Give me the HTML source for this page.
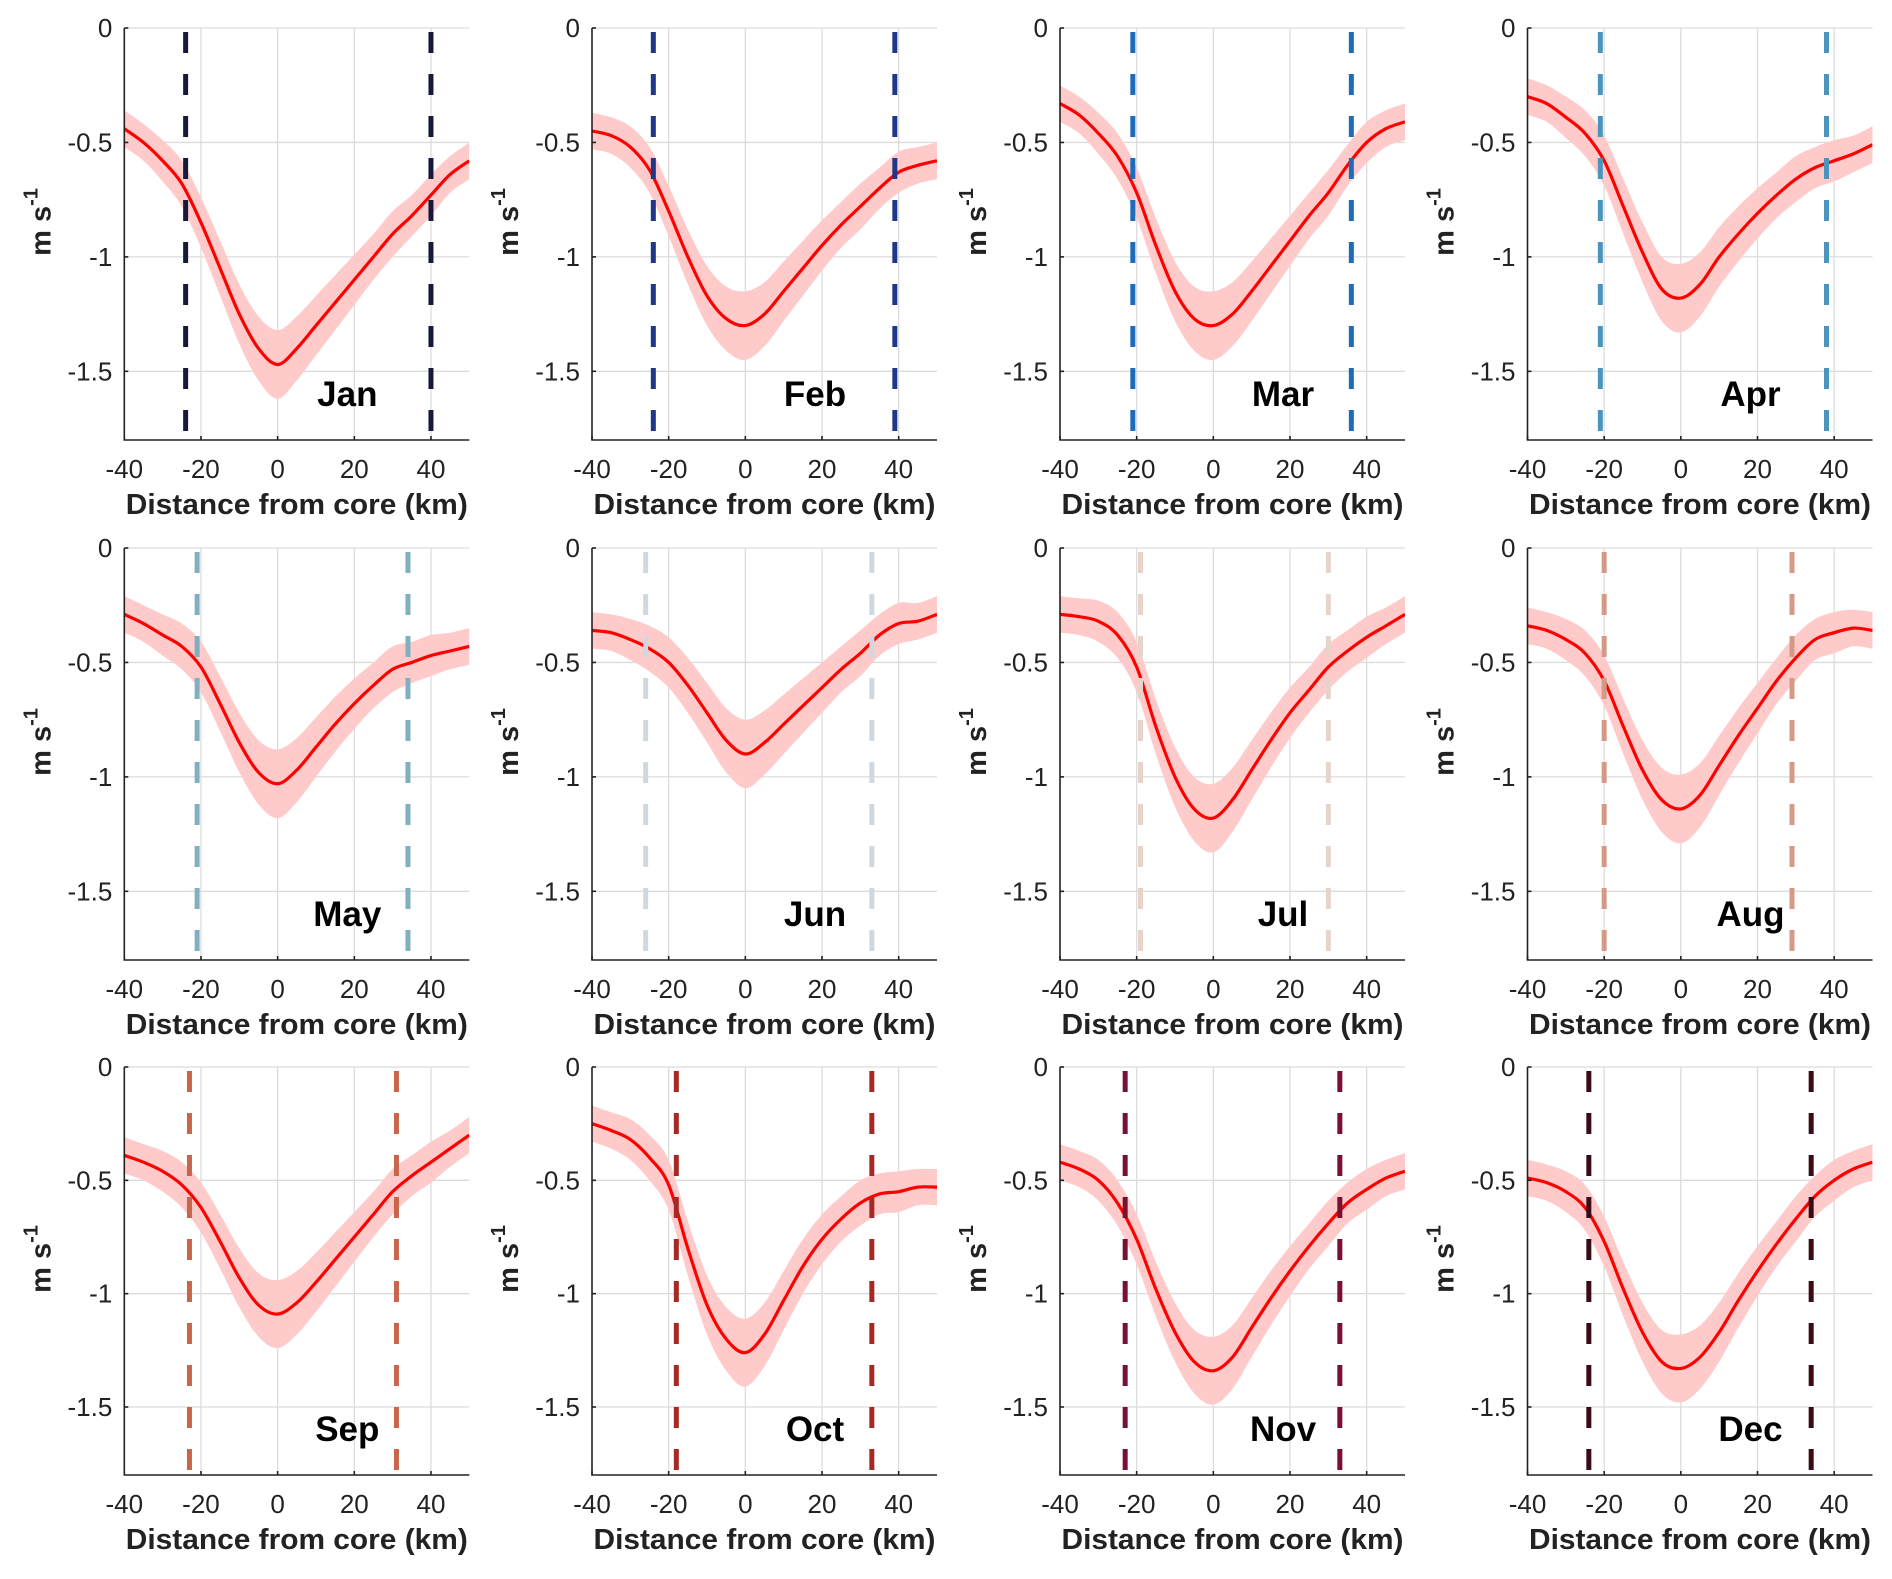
<!DOCTYPE html>
<html><head><meta charset="utf-8">
<style>
html,body{margin:0;padding:0;background:#fff;}
svg{display:block;}
text{font-family:"Liberation Sans",Arial,sans-serif;}
</style></head>
<body>
<svg id="fig" width="1892" height="1579" viewBox="0 0 1892 1579" xmlns="http://www.w3.org/2000/svg"></svg>
<script>
const months = ["Jan","Feb","Mar","Apr","May","Jun","Jul","Aug","Sep","Oct","Nov","Dec"];
const distanceKm = [-40,-35,-30,-25,-20,-15,-10,-5,0,5,10,15,20,25,30,35,40,45,50];
const janValues = [-0.44,-0.5,-0.58,-0.68,-0.85,-1.05,-1.25,-1.4,-1.47,-1.4,-1.3,-1.2,-1.1,-1.0,-0.9,-0.82,-0.73,-0.64,-0.58];
const febValues = [-0.45,-0.47,-0.52,-0.62,-0.8,-1.0,-1.17,-1.27,-1.3,-1.25,-1.15,-1.05,-0.95,-0.86,-0.78,-0.7,-0.63,-0.6,-0.58];
const marValues = [-0.33,-0.38,-0.46,-0.56,-0.72,-0.95,-1.15,-1.27,-1.3,-1.25,-1.15,-1.04,-0.93,-0.82,-0.72,-0.6,-0.5,-0.44,-0.41];
const aprValues = [-0.3,-0.33,-0.39,-0.46,-0.58,-0.78,-0.98,-1.14,-1.18,-1.12,-1.0,-0.9,-0.81,-0.73,-0.66,-0.61,-0.58,-0.55,-0.51];
const mayValues = [-0.29,-0.33,-0.38,-0.43,-0.52,-0.68,-0.85,-0.98,-1.03,-0.97,-0.87,-0.77,-0.68,-0.6,-0.53,-0.5,-0.47,-0.45,-0.43];
const junValues = [-0.36,-0.37,-0.4,-0.44,-0.5,-0.6,-0.72,-0.84,-0.9,-0.85,-0.77,-0.69,-0.61,-0.53,-0.46,-0.38,-0.33,-0.32,-0.29];
const julValues = [-0.29,-0.3,-0.32,-0.38,-0.52,-0.78,-1.0,-1.14,-1.18,-1.1,-0.97,-0.84,-0.72,-0.62,-0.52,-0.45,-0.39,-0.34,-0.29];
const augValues = [-0.34,-0.36,-0.4,-0.46,-0.58,-0.78,-0.97,-1.1,-1.14,-1.08,-0.95,-0.82,-0.7,-0.58,-0.48,-0.4,-0.37,-0.35,-0.36];
const sepValues = [-0.39,-0.42,-0.46,-0.52,-0.62,-0.77,-0.93,-1.05,-1.09,-1.04,-0.95,-0.85,-0.75,-0.65,-0.55,-0.48,-0.42,-0.36,-0.3];
const octValues = [-0.25,-0.28,-0.32,-0.4,-0.52,-0.8,-1.05,-1.2,-1.26,-1.18,-1.03,-0.88,-0.76,-0.67,-0.6,-0.56,-0.55,-0.53,-0.53];
const novValues = [-0.42,-0.45,-0.5,-0.6,-0.76,-0.98,-1.17,-1.3,-1.34,-1.28,-1.15,-1.02,-0.9,-0.79,-0.69,-0.6,-0.54,-0.49,-0.46];
const decValues = [-0.49,-0.51,-0.55,-0.62,-0.77,-0.98,-1.17,-1.3,-1.33,-1.28,-1.17,-1.03,-0.9,-0.78,-0.67,-0.57,-0.5,-0.45,-0.42];
const bandHalfWidth = [0.08,0.08,0.09,0.1,0.11,0.12,0.13,0.14,0.15,0.14,0.13,0.12,0.11,0.1,0.1,0.09,0.09,0.08,0.08];
const leftBoundary = [-24,-24,-21,-21,-21,-26,-19,-20,-23,-18,-23,-24];
const rightBoundary = [40,39,36,38,34,33,30,29,31,33,33,34];
const boundaryColors = ["#151a3b","#1f3787","#1e6bb8","#4a94be","#80b0bf","#cfd8de","#e8d3cb","#d49a86","#c8654b","#a52a25","#7a1030","#3a0b15"];
const xTicks = [-40,-20,0,20,40];
const yTicks = [0,-0.5,-1,-1.5];
const yTickLabels = ["0","-0.5","-1","-1.5"];

const allValues = [janValues,febValues,marValues,aprValues,mayValues,junValues,julValues,augValues,sepValues,octValues,novValues,decValues];
const NS = "http://www.w3.org/2000/svg";
const svg = document.getElementById("fig");
const colLefts = [124.3, 592, 1060, 1527.5];
const rowTops = [28, 548, 1067];
const rowHeights = [412, 412, 408];
const plotW = 345;
const X0 = -40, X1 = 50, Y0 = 0, Y1 = -1.8;

function mk(tag, attrs, parent){
  const e = document.createElementNS(NS, tag);
  for (const k in attrs) e.setAttribute(k, attrs[k]);
  (parent||svg).appendChild(e);
  return e;
}
function smoothPath(pts, move){
  let d = (move ? "M" : "L") + pts[0][0].toFixed(2) + "," + pts[0][1].toFixed(2);
  for (let i=0;i<pts.length-1;i++){
    const p0 = pts[Math.max(0,i-1)], p1 = pts[i], p2 = pts[i+1], p3 = pts[Math.min(pts.length-1,i+2)];
    const c1x = p1[0]+(p2[0]-p0[0])/6, c1y = p1[1]+(p2[1]-p0[1])/6;
    const c2x = p2[0]-(p3[0]-p1[0])/6, c2y = p2[1]-(p3[1]-p1[1])/6;
    d += " C"+c1x.toFixed(2)+","+c1y.toFixed(2)+" "+c2x.toFixed(2)+","+c2y.toFixed(2)+" "+p2[0].toFixed(2)+","+p2[1].toFixed(2);
  }
  return d;
}

months.forEach((m, i) => {
  const r = Math.floor(i/4), c = i%4;
  const L = colLefts[c], T = rowTops[r], H = rowHeights[r];
  const xs = v => L + (v - X0) / (X1 - X0) * plotW;
  const ys = v => T + (v - Y0) / (Y1 - Y0) * H;
  const g = mk("g", {});
  
  

  const clipId = "clip" + i;
  const cp = mk("clipPath", {id: clipId}, g);
  mk("rect", {x: L, y: T, width: plotW, height: H}, cp);

  const grid = mk("g", {stroke:"#dcdcdc", "stroke-width":1.3}, g);
  
  
  xTicks.forEach(t => mk("line", {x1: xs(t), x2: xs(t), y1: T, y2: T+H}, grid));
  yTicks.forEach(t => mk("line", {x1: L, x2: L+plotW, y1: ys(t), y2: ys(t)}, grid));

  const vals = allValues[i];
  const upper = distanceKm.map((x,k)=>[xs(x), ys(vals[k]+bandHalfWidth[k])]);
  const lower = distanceKm.map((x,k)=>[xs(x), ys(vals[k]-bandHalfWidth[k])]).reverse();
  const band = mk("path", {d: smoothPath(upper,true) + " " + smoothPath(lower,false) + " Z", fill:"#ffcaca", "clip-path":"url(#"+clipId+")"}, g);
  
  

  const line = mk("path", {d: smoothPath(distanceKm.map((x,k)=>[xs(x), ys(vals[k])]), true), fill:"none", stroke:"#ff0000", "stroke-width":3.2, "clip-path":"url(#"+clipId+")"}, g);
  
  

  [leftBoundary[i], rightBoundary[i]].forEach((b, k) => {
    const dl = mk("line", {x1: xs(b), x2: xs(b), y1: T+4, y2: T+H, stroke: boundaryColors[i], "stroke-width":5, "stroke-dasharray":"21,21"}, g);
    
    
  });

  const ax = mk("path", {d: "M"+L+","+T+" L"+L+","+(T+H)+" L"+(L+plotW)+","+(T+H), fill:"none", stroke:"#222", "stroke-width":1.6}, g);
  
  
  xTicks.forEach(t => {
    mk("line", {x1: xs(t), x2: xs(t), y1: T+H, y2: T+H-4, stroke:"#222", "stroke-width":1.6}, g);
    const tl = mk("text", {x: xs(t), y: T+H+38, "font-size":26, "text-anchor":"middle", fill:"#222"}, g);
    tl.textContent = t;
    
    
  });
  yTicks.forEach((t, k) => {
    mk("line", {x1: L, x2: L+4, y1: ys(t), y2: ys(t), stroke:"#222", "stroke-width":1.6}, g);
    const tl = mk("text", {x: L-12, y: ys(t)+9, "font-size":26, "text-anchor":"end", fill:"#222"}, g);
    tl.textContent = yTickLabels[k];
    
    
  });

  const xl = mk("text", {x: L+plotW/2, y: T+H+74, "font-size":29, "font-weight":"bold", "text-anchor":"middle", fill:"#222", textLength:342, lengthAdjust:"spacingAndGlyphs"}, g);
  xl.textContent = "Distance from core (km)";
  
  

  const yl = mk("text", {transform:"translate("+(L-74)+","+(T+H/2-12)+") rotate(-90)", "font-size":29, "font-weight":"bold", "text-anchor":"middle", fill:"#222"}, g);
  
  
  const t1 = mk("tspan", {}, yl); t1.textContent = "m s";
  const t2 = mk("tspan", {dy:-13, "font-size":20}, yl); t2.textContent = "-1";

  const ml = mk("text", {x: L+223, y: T+H-34, "font-size":35, "font-weight":"bold", "text-anchor":"middle", fill:"#000"}, g);
  ml.textContent = m;
  
  
});
</script>
</body></html>
